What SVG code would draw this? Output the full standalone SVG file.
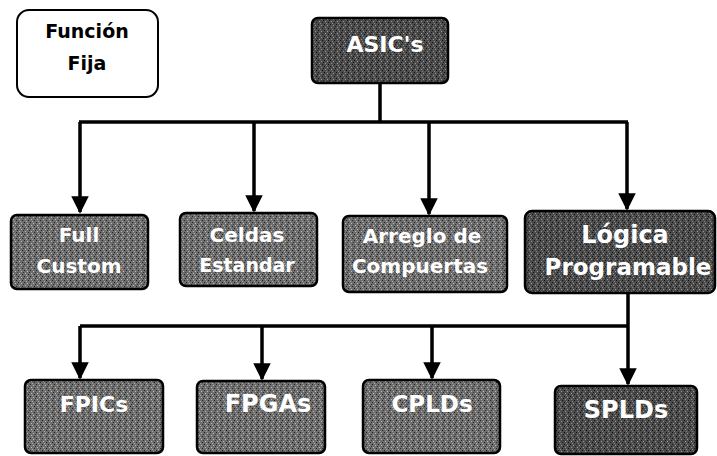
<svg xmlns="http://www.w3.org/2000/svg" width="717" height="456" viewBox="0 0 717 456">
<style>
.box{fill:url(#texL);stroke:#000;stroke-width:2.5}
.dark{fill:url(#texD)}
.t{font-family:"DejaVu Sans",Verdana,sans-serif;font-weight:bold;fill:#fff;text-anchor:middle}
.k{font-family:"DejaVu Sans",Verdana,sans-serif;font-weight:bold;fill:#000;text-anchor:middle;font-size:19px}
.ln{stroke:#000;stroke-width:3.5;fill:none}
</style>
<defs>
<marker id="ah" markerWidth="5" markerHeight="5" refX="4.5" refY="2.5" orient="auto" markerUnits="strokeWidth">
<path d="M0,0 L5,2.5 L0,5 z" fill="#000"/>
</marker>
<pattern id="texL" width="6" height="6" patternUnits="userSpaceOnUse">
<rect width="6" height="6" fill="#6e6e6e"/>
<rect x="0" y="0" width="1" height="1" fill="#222"/>
<rect x="3" y="1" width="1" height="1" fill="#bbb"/>
<rect x="1" y="3" width="1" height="1" fill="#bbb"/>
<rect x="4" y="4" width="1" height="1" fill="#222"/>
<rect x="5" y="2" width="1" height="1" fill="#333"/>
<rect x="2" y="5" width="1" height="1" fill="#aaa"/>
</pattern>
<pattern id="texD" width="6" height="6" patternUnits="userSpaceOnUse">
<rect width="6" height="6" fill="#4c4c4c"/>
<rect x="0" y="0" width="1" height="1" fill="#111"/>
<rect x="3" y="1" width="1" height="1" fill="#999"/>
<rect x="1" y="3" width="1" height="1" fill="#999"/>
<rect x="4" y="4" width="1" height="1" fill="#111"/>
<rect x="5" y="2" width="1" height="1" fill="#1a1a1a"/>
<rect x="2" y="5" width="1" height="1" fill="#888"/>
</pattern>
</defs>
<g id="connectors">
<path class="ln" d="M380,83 V122 M79,122 H628"/>
<path class="ln" d="M80,122 V212" marker-end="url(#ah)"/>
<path class="ln" d="M254,122 V211" marker-end="url(#ah)"/>
<path class="ln" d="M429,122 V214" marker-end="url(#ah)"/>
<path class="ln" d="M627,122 V209" marker-end="url(#ah)"/>
<path class="ln" d="M628,293 V326 M80,326 H628"/>
<path class="ln" d="M80,326 V378" marker-end="url(#ah)"/>
<path class="ln" d="M262,326 V379" marker-end="url(#ah)"/>
<path class="ln" d="M432,326 V378" marker-end="url(#ah)"/>
<path class="ln" d="M628,326 V384" marker-end="url(#ah)"/>
</g>
<g id="funcion-fija">
<rect x="17" y="10" width="141" height="87" rx="12" fill="#fff" stroke="#000" stroke-width="2"/>
<text class="k" x="87" y="38">Función</text>
<text class="k" x="87" y="70">Fija</text>
</g>
<g id="asics">
<rect class="box dark" x="312" y="18" width="136" height="65" rx="6"/>
<text class="t" x="385" y="52" font-size="22">ASIC's</text>
</g>
<g id="full-custom">
<rect class="box" x="11" y="215" width="137" height="74" rx="6"/>
<text class="t" x="79" y="242" font-size="20">Full</text>
<text class="t" x="79" y="273" font-size="20">Custom</text>
</g>
<g id="celdas-estandar">
<rect class="box" x="180" y="213" width="137" height="73" rx="6"/>
<text class="t" x="247" y="242" font-size="20">Celdas</text>
<text class="t" x="247" y="272" font-size="19">Estandar</text>
</g>
<g id="arreglo-compuertas">
<rect class="box" x="343" y="216" width="164" height="76" rx="6"/>
<text class="t" x="422" y="243" font-size="20">Arreglo de</text>
<text class="t" x="420" y="273" font-size="20">Compuertas</text>
</g>
<g id="logica-programable">
<rect class="box dark" x="525" y="211" width="190" height="82" rx="7"/>
<text class="t" x="625" y="243" font-size="24">Lógica</text>
<text class="t" x="628" y="275" font-size="23">Programable</text>
</g>
<g id="fpics">
<rect class="box" x="25" y="380" width="138" height="73" rx="6"/>
<text class="t" x="94" y="412" font-size="22">FPICs</text>
</g>
<g id="fpgas">
<rect class="box" x="197" y="381" width="128" height="72" rx="6"/>
<text class="t" x="268" y="412" font-size="24">FPGAs</text>
</g>
<g id="cplds">
<rect class="box" x="363" y="380" width="137" height="73" rx="6"/>
<text class="t" x="432" y="412" font-size="23">CPLDs</text>
</g>
<g id="splds">
<rect class="box dark" x="555" y="386" width="142" height="68" rx="6"/>
<text class="t" x="626" y="418" font-size="24">SPLDs</text>
</g>
</svg>
